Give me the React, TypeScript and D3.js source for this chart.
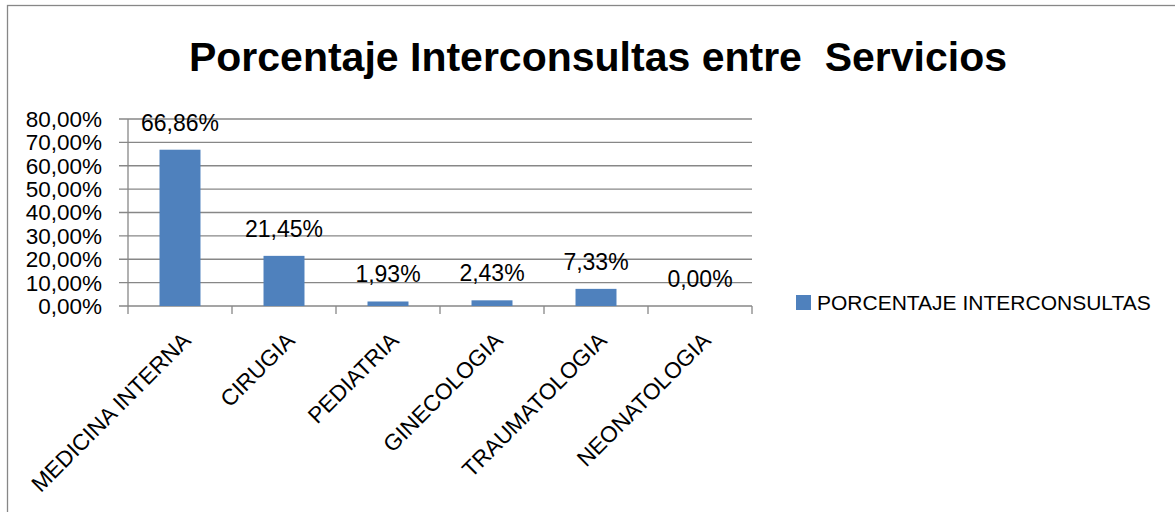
import * as d3 from "d3";
import { useEffect, useRef } from "react";

const categories = [
    "MEDICINA INTERNA",
    "CIRUGIA",
    "PEDIATRIA",
    "GINECOLOGIA",
    "TRAUMATOLOGIA",
    "NEONATOLOGIA",
];
const values = [66.86, 21.45, 1.93, 2.43, 7.33, 0.0];
const yTicks = [0, 10, 20, 30, 40, 50, 60, 70, 80];
const seriesName = "PORCENTAJE INTERCONSULTAS";
const title = "Porcentaje Interconsultas entre  Servicios";

const fmt = (v: number) => v.toFixed(2).replace(".", ",") + "%";

function drawChart(svgEl: SVGSVGElement) {
    const svg = d3.select(svgEl);
    svg.selectAll("*").remove();

    const font = "'Liberation Sans', Arial, sans-serif";
    const gray = "#878787";
    const barColor = "#4F81BD";

    const area = { left: 128, right: 752, top: 119, bottom: 306 };

    // chart frame (runs past the picture on right and bottom)
    svg.append("rect")
        .attr("x", 7.5)
        .attr("y", 5.5)
        .attr("width", 1200)
        .attr("height", 530)
        .attr("fill", "white")
        .attr("stroke", gray)
        .attr("stroke-width", 1.3);

    svg.append("text")
        .attr("x", 598)
        .attr("y", 71)
        .attr("text-anchor", "middle")
        .style("font-family", font)
        .style("font-weight", "bold")
        .style("font-size", "41px")
        .style("white-space", "pre")
        .attr("fill", "black")
        .text(title);

    const scX = d3.scaleBand<string>()
        .domain(categories)
        .range([area.left, area.right]);

    const scY = d3.scaleLinear()
        .domain([0, 80])
        .range([area.bottom, area.top]);

    // gridlines + y ticks
    svg.append("g")
        .selectAll("line")
        .data(yTicks)
        .enter()
        .append("line")
        .attr("x1", area.left - 9)
        .attr("x2", area.right)
        .attr("y1", d => scY(d))
        .attr("y2", d => scY(d))
        .attr("stroke", gray)
        .attr("stroke-width", 1.3);

    svg.append("g")
        .selectAll("text")
        .data(yTicks)
        .enter()
        .append("text")
        .attr("x", 102)
        .attr("y", d => scY(d))
        .attr("dy", "0.35em")
        .attr("text-anchor", "end")
        .style("font-family", font)
        .style("font-size", "22.5px")
        .attr("fill", "black")
        .text(d => fmt(d));

    // y axis line
    svg.append("line")
        .attr("x1", area.left)
        .attr("x2", area.left)
        .attr("y1", area.top)
        .attr("y2", area.bottom)
        .attr("stroke", gray)
        .attr("stroke-width", 1.3);

    // x tick marks at band edges
    const edges = categories.map(c => scX(c) as number).concat([area.right]);
    svg.append("g")
        .selectAll("line")
        .data(edges)
        .enter()
        .append("line")
        .attr("x1", d => d)
        .attr("x2", d => d)
        .attr("y1", area.bottom)
        .attr("y2", area.bottom + 8)
        .attr("stroke", gray)
        .attr("stroke-width", 1.3);

    // bars
    const barW = scX.bandwidth() * 0.394;
    svg.append("g")
        .selectAll("rect")
        .data(values)
        .enter()
        .append("rect")
        .attr("x", (_, i) => (scX(categories[i]) as number) + scX.bandwidth() / 2 - barW / 2)
        .attr("y", d => scY(d))
        .attr("width", barW)
        .attr("height", d => area.bottom - scY(d))
        .attr("fill", barColor);

    // data labels
    svg.append("g")
        .selectAll("text")
        .data(values)
        .enter()
        .append("text")
        .attr("x", (_, i) => (scX(categories[i]) as number) + scX.bandwidth() / 2)
        .attr("y", d => scY(d) - 19)
        .attr("text-anchor", "middle")
        .style("font-family", font)
        .style("font-size", "23px")
        .attr("fill", "black")
        .text(d => fmt(d));

    // category labels, rotated
    svg.append("g")
        .selectAll("text")
        .data(categories)
        .enter()
        .append("text")
        .attr("transform", d => {
            const cx = (scX(d) as number) + scX.bandwidth() / 2 + 12;
            return `translate(${cx}, ${area.bottom + 36}) rotate(-45)`;
        })
        .attr("text-anchor", "end")
        .style("font-family", font)
        .style("font-size", "22.5px")
        .attr("fill", "black")
        .text(d => d);

    // legend
    svg.append("rect")
        .attr("x", 796)
        .attr("y", 295)
        .attr("width", 15)
        .attr("height", 15)
        .attr("fill", barColor);

    svg.append("text")
        .attr("x", 817)
        .attr("y", 310)
        .style("font-family", font)
        .style("font-size", "21px")
        .attr("fill", "black")
        .text(seriesName);
}

export default function App() {
    const svgRef = useRef<SVGSVGElement>(null);

    useEffect(() => {
        if (svgRef.current) drawChart(svgRef.current);
    }, []);

    return (
        <svg
            ref={svgRef}
            width={1175}
            height={512}
            style={{ position: "absolute", left: 0, top: 0, background: "white" }}
        ></svg>
    );
}
